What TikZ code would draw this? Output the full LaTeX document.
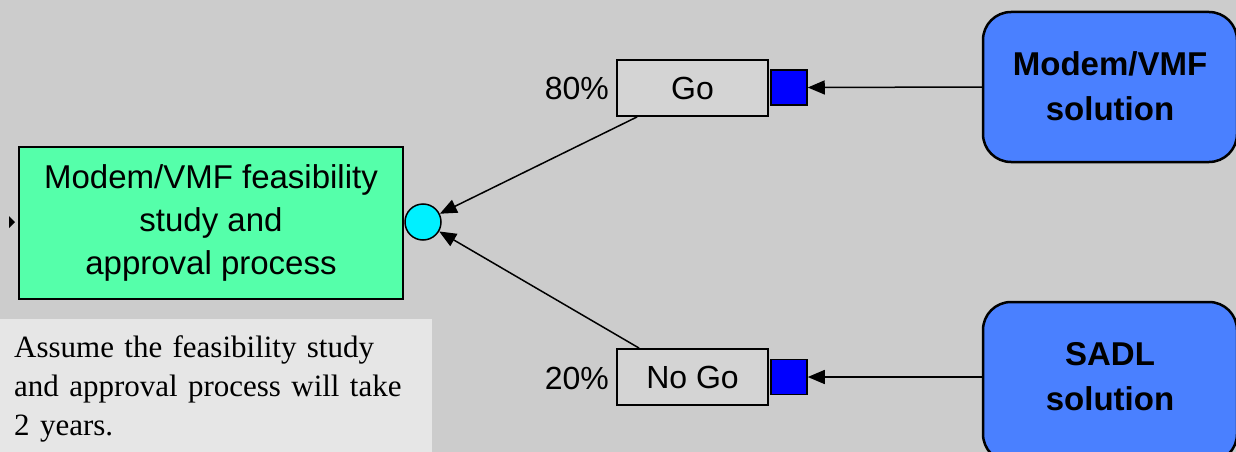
\documentclass[tikz,border=0pt]{standalone}
\usepackage{fontspec}
\setmainfont{Liberation Sans}
\newfontfamily\notefont{Liberation Serif}
\usetikzlibrary{arrows.meta}

\definecolor{canvas}{RGB}{204,204,204}
\definecolor{studygreen}{RGB}{85,255,170}
\definecolor{chancecyan}{RGB}{0,240,255}
\definecolor{branchgray}{RGB}{212,212,212}
\definecolor{solblue}{RGB}{74,128,255}
\definecolor{notegray}{RGB}{230,230,230}

\tikzset{
  x=1pt, y=-1pt,
  every node/.style={font=\fontsize{32}{42}\selectfont},
  activity/.style={draw=black, line width=2pt, fill=studygreen,
    minimum width=384pt, minimum height=152pt, align=center, inner sep=0pt,
    font=\fontsize{33}{43}\selectfont},
  chance/.style={circle, draw=black, line width=1.5pt, fill=chancecyan,
    minimum size=36pt, inner sep=0pt},
  branch/.style={draw=black, line width=1.8pt, fill=branchgray,
    minimum width=151pt, minimum height=56pt, inner sep=0pt},
  port/.style={draw=black, line width=1.5pt, fill=blue,
    minimum width=36pt, minimum height=35pt, inner sep=0pt},
  pct/.style={anchor=east, inner sep=0pt},
  solution/.style={draw=black, line width=2.5pt, fill=solblue,
    rounded corners=28pt, minimum width=254pt, inner sep=0pt},
  soltext/.style={font=\bfseries\fontsize{33}{45}\selectfont, align=center, inner sep=0pt},
  notebox/.style={fill=notegray, anchor=north west, minimum width=432pt,
    minimum height=140pt, text width=404pt, inner xsep=14pt, inner ysep=0pt,
    align=left, font=\notefont\fontsize{31}{39}\selectfont},
  conn/.style={line width=1.5pt, -{Triangle[length=17pt,width=14pt]}},
}

\begin{document}
\begin{tikzpicture}
  \fill[canvas] (0,0) rectangle (1236,452);
  \useasboundingbox (0,0) rectangle (1236,452);
  \clip (0,0) rectangle (1236,452);

  % note
  \node[notebox] (note) at (0,319) {Assume the feasibility study\\and approval process will take\\2 years.};

  % activity and its chance outcome
  \fill (9,216) -- (15,222) -- (9,228) -- cycle;
  \node[activity] (study) at (211,223) {Modem/VMF feasibility\\study and\\approval process};
  \node[chance] (chance) at (423,222) {};

  % branches
  \node[branch] (go) at (692.5,88) {Go};
  \node[port] (goport) at (789,87.5) {};
  \node[pct] (gopct) at (609,88) {80\%};

  \node[branch] (nogo) at (692.5,377) {No Go};
  \node[port] (nogoport) at (789,377) {};
  \node[pct] (nogopct) at (609,378) {20\%};

  % solutions
  \node[solution, minimum height=150pt] (modem) at (1110,87) {};
  \node[soltext] (modemtext) at (1110,86) {Modem/VMF\\solution};
  \node[solution, minimum height=160pt] (sadl) at (1110,382) {};
  \node[soltext] (sadltext) at (1110,377) {SADL\\solution};

  % connectors
  \draw[conn] (modem.west) -- (goport.east);
  \draw[conn] (sadl.west |- nogoport.east) -- (nogoport.east);
  \draw[conn] ([xshift=21pt]go.south west) -- (chance);
  \draw[conn] ([xshift=23pt]nogo.north west) -- (chance);
\end{tikzpicture}
\end{document}
